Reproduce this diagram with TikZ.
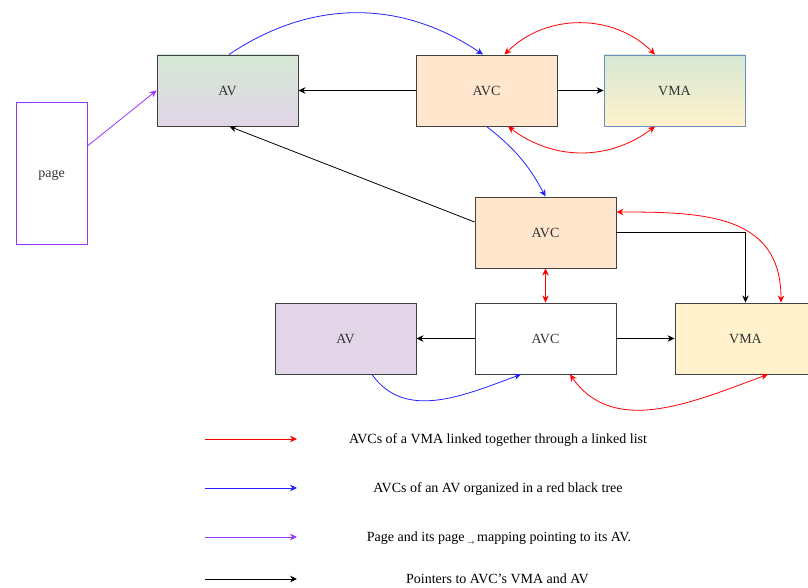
\documentclass[tikz,border=0pt]{standalone}
\usepackage{fontspec}
\setmainfont{Liberation Serif}
\usetikzlibrary{arrows.meta}

\definecolor{avcfill}{HTML}{FFE6CC}
\definecolor{avfill}{HTML}{E1D5E7}
\definecolor{greenfill}{HTML}{D5E8D4}
\definecolor{vmafill}{HTML}{FFF2CC}
\definecolor{vmaborder}{HTML}{6C8EBF}
\definecolor{pagepurple}{HTML}{9933FF}
\definecolor{treeblue}{HTML}{2222FF}

\begin{document}
\begin{tikzpicture}[
    x=1pt, y=1pt,
    font=\fontsize{14}{16}\selectfont,
    box/.style={rectangle, minimum width=141pt, minimum height=71pt, inner sep=0pt, text height=12pt, text depth=2pt, text centered, draw=black!75, line width=0.9pt, text=black!80},
    arrow/.style={line width=0.8pt, ->, >={Stealth[length=7pt,width=6.5pt]}},
    avclist/.style={arrow, <->, draw=red},
    avctree/.style={arrow, draw=treeblue},
    legendtext/.style={font=\fontsize{14}{16}\selectfont, text height=12pt, text depth=2pt}
]
\useasboundingbox (0,0) rectangle (808,588);
\clip (0,0) rectangle (808,588);

% Row 1: AV, AVC and VMA
\node (av1) [box, top color=greenfill, bottom color=avfill] at (227.5,497.5) {AV};
\node (avc1) [box, fill=avcfill] at (486.5,497.5) {AVC};
\node (vma1) [box, draw=vmaborder, top color=greenfill, bottom color=vmafill] at (674.5,497.5) {VMA};

% The page on the left
\node (page) [box, draw=pagepurple, minimum width=71pt, minimum height=142pt] at (51.5,415) {page};

% Row 2: AVC in between
\node (avc2) [box, fill=avcfill] at (545.5,355.5) {AVC};

% Row 3: AV, AVC and VMA
\node (av2) [box, fill=avfill] at (345.5,249.5) {AV};
\node (avc3) [box, fill=white] at (545.5,249.5) {AVC};
\node (vma2) [box, fill=vmafill] at (745.5,249.5) {VMA};

% Pointers to VMA and AV
\draw[arrow] (avc1) -- (av1);
\draw[arrow] (avc1) -- (vma1);
\draw[arrow] ([yshift=10.5pt]avc2.west) -- ([xshift=2pt]av1.south);
\draw[arrow] (avc2.east) -| (vma2.north);
\draw[arrow] (avc3) -- (av2);
\draw[arrow] (avc3) -- (vma2);

% Page mapping
\draw[arrow, draw=pagepurple] ([yshift=27pt]page.east) -- (av1.west);

% Red black tree of the AVs
\draw[avctree, bend left=34] ([xshift=1.5pt]av1.north) to ([xshift=-3.5pt]avc1.north);
\draw[avctree, bend left=12] (avc1.south) to (avc2.north);
\draw[avctree, out=-55, in=200] ([xshift=26.5pt]av2.south) to ([xshift=-24.5pt]avc3.south);

% Linked list of the VMAs
\draw[avclist, bend left=45] ([xshift=18pt]avc1.north) to ([xshift=-19.5pt]vma1.north);
\draw[avclist, bend right=37] ([xshift=21.5pt]avc1.south) to ([xshift=-19.5pt]vma1.south);
\draw[avclist, out=0, in=90, looseness=1.2] ([yshift=20.5pt]avc2.east) to ([xshift=35.5pt]vma2.north);
\draw[avclist] (avc2.south) -- (avc3.north);
\draw[avclist, out=-55, in=200] ([xshift=24.5pt]avc3.south) to ([xshift=22.5pt]vma2.south);

% Legend
\coordinate (redA) at (205,149);
\coordinate (redB) at (297,149);
\coordinate (blueA) at (205,100);
\coordinate (blueB) at (297,100);
\coordinate (purpleA) at (205,51);
\coordinate (purpleB) at (297,51);
\coordinate (blackA) at (205,9);
\coordinate (blackB) at (297,9);
\draw[arrow, draw=red] (redA) -- (redB);
\draw[avctree] (blueA) -- (blueB);
\draw[arrow, draw=pagepurple] (purpleA) -- (purpleB);
\draw[arrow] (blackA) -- (blackB);
\node (redtext) [legendtext] at (498,149) {AVCs of a VMA linked together through a linked list};
\node (bluetext) [legendtext] at (498,100) {AVCs of an AV organized in a red black tree};
\node (purpletext) [legendtext] at (499,51) {Page and its page\,\raisebox{-0.35ex}{\scriptsize$\rightarrow$}\,mapping pointing to its AV.};
\node (blacktext) [legendtext] at (497.5,9) {Pointers to AVC's VMA and AV};

\end{tikzpicture}
\end{document}
